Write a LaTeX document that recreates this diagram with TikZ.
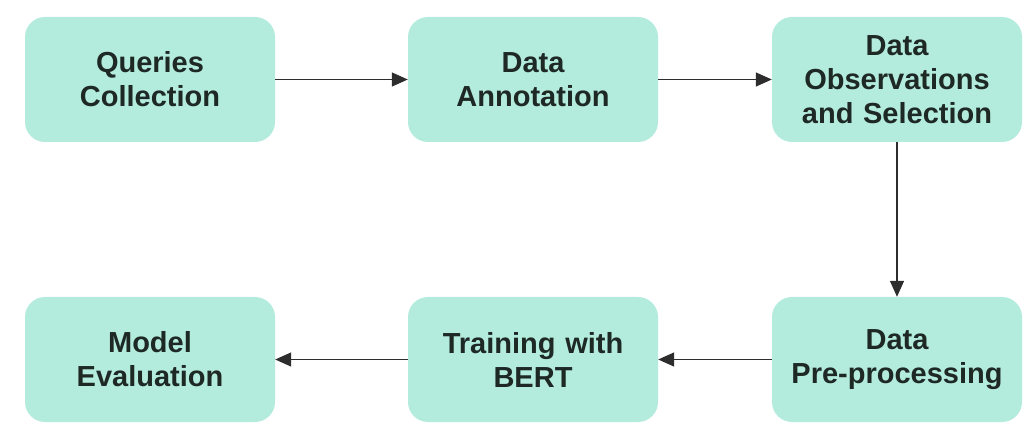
\documentclass[tikz,border=0pt]{standalone}
\usepackage{fontspec}
\setmainfont{Liberation Sans}
\definecolor{boxmint}{RGB}{179, 235, 220}
\definecolor{textdark}{RGB}{30, 40, 37}
\definecolor{linegray}{RGB}{45, 45, 45}
\usetikzlibrary{arrows.meta, positioning}

\begin{document}
\begin{tikzpicture}[x=1pt, y=1pt,
  stage/.style={fill=boxmint, rounded corners=20pt, minimum width=250pt, minimum height=125pt, text width=240pt, align=center, inner sep=0pt, text=textdark, font=\fontsize{29}{34}\selectfont\bfseries},
  flow/.style={draw=linegray, line width=1.4pt, -{Triangle[length=16pt, width=14pt]}}]
  \useasboundingbox (0,0) rectangle (1036,423);

  % Top row
  \node[stage] (queries) at (150, 343.5) {Queries\\Collection};
  \node[stage] (annot) at (533, 343.5) {Data\\Annotation};
  \node[stage] (select) at (897, 343.5) {Data\\Observations\\and Selection};

  % Bottom row
  \node[stage] (prep) at (897, 63.5) {Data\\Pre-processing};
  \node[stage] (bert) at (533, 63.5) {Training with\\BERT};
  \node[stage] (eval) at (150, 63.5) {Model\\Evaluation};

  % Connectors
  \draw[flow] (queries) -- (annot);
  \draw[flow] (annot) -- (select);
  \draw[flow] (select) -- (prep);
  \draw[flow] (prep) -- (bert);
  \draw[flow] (bert) -- (eval);
\end{tikzpicture}
\end{document}
